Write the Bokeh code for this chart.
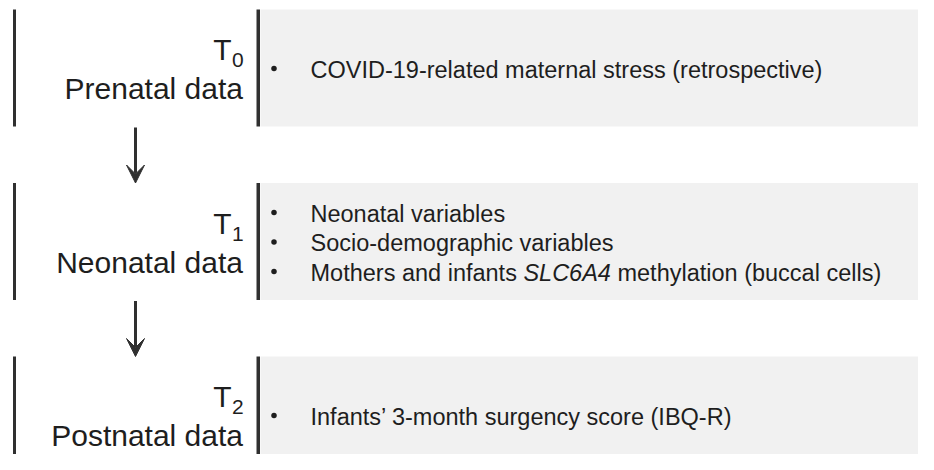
from bokeh.plotting import figure
from bokeh.models import Range1d, Arrow, VeeHead
from bokeh.core.properties import value
from bokeh.embed import file_html
from bokeh.resources import INLINE

# ---- content ----
periods = ["Prenatal data", "Neonatal data", "Postnatal data"]
time_subscripts = ["0", "1", "2"]
time_letter = "T"
items = [
    ["COVID-19-related maternal stress (retrospective)"],
    ["Neonatal variables",
     "Socio-demographic variables",
     "Mothers and infants *SLC6A4* methylation (buccal cells)"],
    ["Infants\u2019 3-month surgency score (IBQ-R)"],
]

# ---- layout / style ----
FONT = "Liberation Sans"
TXT = "#1e1e1e"
BAR = "#303030"
GREY = "#f1f1f1"
ITEM_PX = 23.5
ITEM_FS = f"{ITEM_PX}px"
SUB_PX = 21
BASE_FIX = 0.36  # empirical baseline correction (em)

# Arial / Liberation Sans advance widths (per 1000 em)
W = {" ": 278, "\u2019": 222, "(": 333, ")": 333, "-": 333, ".": 278,
     "A": 667, "B": 667, "C": 722, "D": 722, "I": 278, "L": 556, "M": 833,
     "N": 722, "O": 778, "P": 667, "Q": 778, "R": 722, "S": 667, "T": 611,
     "V": 667, "a": 556, "b": 556, "c": 500, "d": 556, "e": 556, "f": 278,
     "g": 556, "h": 556, "i": 222, "l": 222, "m": 833, "n": 556, "o": 556,
     "p": 556, "r": 333, "s": 500, "t": 278, "u": 556, "v": 500, "y": 500,
     "k": 500, "x": 500, "w": 722, "j": 222, "z": 500, "q": 556}


def text_width(s, px):
    return sum(W.get(ch, 556) for ch in s) / 1000.0 * px


p = figure(width=918, height=454, output_backend="svg", toolbar_location=None,
           x_range=Range1d(0, 918), y_range=Range1d(457, 3),
           min_border=0, outline_line_color=None, background_fill_color="white")
p.axis.visible = False
p.grid.visible = False

block_top0 = 12
block_step = 173.5
block_h = 117

tops = [block_top0 + i * block_step for i in range(len(periods))]
bottoms = [t + block_h if i < len(periods) - 1 else 475 for i, t in enumerate(tops)]

# grey panels
p.quad(left=[260] * len(tops), right=[940] * len(tops), top=tops, bottom=bottoms,
       fill_color=GREY, line_color=None)
# left bars
p.quad(left=[12.5] * len(tops), right=[15.5] * len(tops), top=tops, bottom=bottoms,
       fill_color=BAR, line_color=None)
# middle bars
p.quad(left=[256] * len(tops), right=[259.5] * len(tops), top=tops, bottom=bottoms,
       fill_color=BAR, line_color=None)

# arrows between blocks
for i in range(len(tops) - 1):
    p.add_layout(Arrow(x_start=135, y_start=bottoms[i] + 1, x_end=135, y_end=tops[i + 1],
                       line_width=3, line_color=BAR,
                       end=VeeHead(size=18, fill_color=BAR, line_color=BAR, line_width=1)))

# left labels: T with subscript, and period name
p.text(x=[231] * len(tops), y=[t + 51 - BASE_FIX * 30 for t in tops],
       text=[time_letter] * len(tops),
       text_font=value(FONT), text_font_size=value("30px"), text_color=TXT,
       text_align="right", text_baseline="alphabetic")
p.text(x=[231.5] * len(tops), y=[t + 58.5 - BASE_FIX * SUB_PX for t in tops],
       text=time_subscripts,
       text_font=value(FONT), text_font_size=value(f"{SUB_PX}px"), text_color=TXT,
       text_align="left", text_baseline="alphabetic")
p.text(x=[242.5] * len(tops), y=[t + 90 - BASE_FIX * 30 for t in tops], text=periods,
       text_font=value(FONT), text_font_size=value("30px"), text_color=TXT,
       text_align="right", text_baseline="alphabetic")

# right items
line_gap = 29.5
bx, by = [], []
seg_x, seg_y, seg_t, seg_style = [], [], [], []
for i, lines in enumerate(items):
    n = len(lines)
    for k, line in enumerate(lines):
        base = tops[i] + 68.5 + (k - (n - 1) / 2) * line_gap
        bx.append(273.5)
        by.append(base - 9.5)
        x = 310
        for j, part in enumerate(line.split("*")):
            if not part:
                continue
            lead = len(part) - len(part.lstrip(" "))
            x += text_width(part[:lead], ITEM_PX)
            body = part.lstrip(" ")
            seg_x.append(x)
            seg_y.append(base - BASE_FIX * ITEM_PX)
            seg_t.append(body)
            seg_style.append("italic" if j % 2 == 1 else "normal")
            x += text_width(body, ITEM_PX)

p.scatter(x=bx, y=by, size=5.5, fill_color=TXT, line_color=None)
p.text(x=seg_x, y=seg_y, text=seg_t, text_font_style=seg_style,
       text_font=value(FONT), text_font_size=value(ITEM_FS), text_color=TXT,
       text_align="left", text_baseline="alphabetic")

open("out.html", "w").write(file_html(p, INLINE))
